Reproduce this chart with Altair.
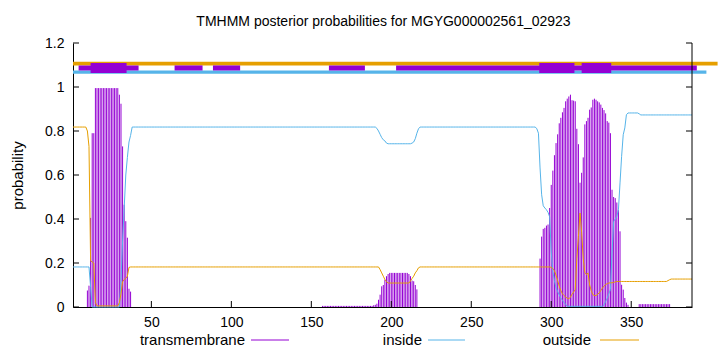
import altair as alt
import pandas as pd

TITLE = "TMHMM posterior probabilities for MGYG000002561_02923"
N_RES = 388
RESIDUES = list(range(1, N_RES + 1))

# ---- transmembrane posterior (impulses), read per residue ----
TM_HELIX_1 = [0.075, 0.097, 0.405, 0.79, 0.79] + [0.995] * 15 + \
             [0.965, 0.924, 0.73, 0.465, 0.39, 0.315, 0.083, 0.07]            # res 10-37
TM_LOOP = [0.005] * 32 + [0.008, 0.01] + \
          [0.015, 0.033, 0.056, 0.094, 0.10, 0.124, 0.14, 0.15] + [0.155] * 12 + \
          [0.15, 0.14, 0.12, 0.117, 0.10, 0.08]                                  # res 157-216
TM_HELIX_23 = [0.22, 0.32, 0.355, 0.36, 0.37, 0.375, 0.45, 0.555, 0.62, 0.69,
               0.745, 0.785, 0.835, 0.86, 0.885, 0.905, 0.935, 0.947, 0.957, 0.965,
               0.94, 0.938, 0.935, 0.81, 0.74, 0.565, 0.61, 0.68, 0.83, 0.845,
               0.86, 0.897, 0.907, 0.942, 0.947, 0.942, 0.935, 0.93, 0.92, 0.905,
               0.895, 0.88, 0.845, 0.838, 0.79, 0.533, 0.50, 0.495, 0.475, 0.442,
               0.344, 0.101, 0.079, 0.041, 0.02, 0.01]                            # res 293-348
TM_TAIL = [0.013] * 20                                                             # res 355-374
TM = [0.0] * 9 + TM_HELIX_1 + [0.0] * 119 + TM_LOOP + [0.0] * 76 + \
     TM_HELIX_23 + [0.0] * 6 + TM_TAIL + [0.0] * 14

# ---- inside posterior ----
INSIDE = [0.182] * 11 + [0.09] + [0.0] * 18 + \
         [0.12, 0.3, 0.45, 0.6, 0.68, 0.75, 0.78] + [0.818] * 153 + \
         [0.812, 0.80, 0.785, 0.77, 0.76, 0.755, 0.745] + [0.742] * 15 + \
         [0.745, 0.75, 0.765, 0.79, 0.81] + [0.818] * 73 + \
         [0.81, 0.79, 0.632, 0.51, 0.46, 0.45, 0.442, 0.43, 0.41, 0.25,
          0.16, 0.12, 0.086, 0.07, 0.055, 0.041, 0.03, 0.02, 0.012] + [0.003] * 23 + \
         [0.01, 0.025, 0.04, 0.06, 0.079, 0.245, 0.389, 0.40, 0.412, 0.442,
          0.564, 0.685, 0.783, 0.814, 0.874] + [0.882] * 7 + [0.878] + [0.873] * 33

# ---- outside posterior ----
OUTSIDE = [0.818] * 9 + [0.80, 0.73, 0.21, 0.205, 0.20, 0.02] + [0.005] * 14 + \
          [0.02, 0.06, 0.115, 0.125, 0.13, 0.14, 0.18] + [0.182] * 156 + \
          [0.17, 0.155, 0.14, 0.125, 0.115] + [0.109] * 14 + \
          [0.118, 0.13, 0.14, 0.155, 0.165, 0.178] + [0.182] * 82 + \
          [0.18, 0.175, 0.165, 0.145, 0.12, 0.095, 0.075, 0.06, 0.052, 0.045,
           0.04, 0.037, 0.045, 0.058, 0.068, 0.08, 0.22, 0.32, 0.427, 0.34,
           0.22, 0.158, 0.147, 0.155, 0.10, 0.075, 0.056, 0.052, 0.052, 0.058,
           0.064, 0.075, 0.086, 0.095, 0.102, 0.106, 0.109, 0.11, 0.11, 0.112,
           0.114] + [0.116] * 32 + [0.12, 0.124] + [0.127] * 14

# ---- predicted topology bands drawn above the curves ----
BAND_KIND = ["outside", "inside", "tm", "tm", "tm", "tm", "tm", "helix", "helix", "helix"]
BAND_START = [1, 1, 4.5, 64.5, 88.5, 161, 203, 12, 292.5, 319]
BAND_END = [404, 397, 42, 82, 105.5, 183.5, 391, 34.5, 314.5, 337.5]
BAND_LOW = [1.098, 1.060, 1.075, 1.075, 1.075, 1.075, 1.075, 1.064, 1.064, 1.064]
BAND_HIGH = [1.115, 1.075, 1.098, 1.098, 1.098, 1.098, 1.098, 1.109, 1.109, 1.109]

X_TICKS = [50, 100, 150, 200, 250, 300, 350]
Y_TICKS = [0, 0.2, 0.4, 0.6, 0.8, 1, 1.2]
LEGEND_LABELS = ["transmembrane", "inside", "outside"]

PURPLE, BLUE, ORANGE = "#9400d3", "#56b4e9", "#e69f00"
KIND_COLOR = {"outside": ORANGE, "inside": BLUE, "tm": PURPLE, "helix": PURPLE}
FONT = "Liberation Sans"
FS = 14
FS_BIG = 15
W, H = 619, 264

df = pd.DataFrame({"res": RESIDUES, "tm": TM, "inside": INSIDE, "outside": OUTSIDE})
bands = pd.DataFrame({"kind": BAND_KIND, "start": BAND_START, "end": BAND_END,
                      "lo": BAND_LOW, "hi": BAND_HIGH})
bands["color"] = bands["kind"].map(KIND_COLOR)

xs = alt.Scale(domain=[1, N_RES], nice=False, zero=False)
ys = alt.Scale(domain=[0, 1.2], nice=False)
x_axis = alt.Axis(values=X_TICKS, format="d", tickSize=0, labelPadding=8, labelFontSize=FS,
                  labelFont=FONT, labelColor="black", domainColor="black", grid=False,
                  title=None, labelFlush=False)
y_axis = alt.Axis(values=Y_TICKS, format="~g", tickSize=0, labelPadding=9, labelFontSize=FS,
                  labelFont=FONT, labelColor="black", domainColor="black", grid=False,
                  title="probability", titleFontSize=FS_BIG, titleFont=FONT,
                  titleFontWeight="normal", titleColor="black", titlePadding=19,
                  labelFlush=False)

band_layer = alt.Chart(bands).mark_rect().encode(
    x=alt.X("start:Q", scale=xs, axis=x_axis), x2="end:Q",
    y=alt.Y("lo:Q", scale=ys, axis=y_axis), y2="hi:Q",
    color=alt.Color("color:N", scale=None))

base = alt.Chart(df)
bars = base.transform_filter("datum.tm > 0").mark_rule(color=PURPLE, strokeWidth=1).encode(
    x=alt.X("res:Q", scale=xs, axis=x_axis),
    y=alt.Y("tm:Q", scale=ys, axis=y_axis), y2=alt.datum(0))
inside_line = base.mark_line(color=BLUE, strokeWidth=1).encode(
    x=alt.X("res:Q", scale=xs, axis=x_axis), y=alt.Y("inside:Q", scale=ys, axis=y_axis))
outside_line = base.mark_line(color=ORANGE, strokeWidth=1).encode(
    x=alt.X("res:Q", scale=xs, axis=x_axis), y=alt.Y("outside:Q", scale=ys, axis=y_axis))

ytick_df = pd.DataFrame({"v": Y_TICKS})
xtick_df = pd.DataFrame({"v": X_TICKS})
ytick_l = alt.Chart(ytick_df).mark_rule(color="black").encode(
    y=alt.Y("v:Q", scale=ys, axis=y_axis), x=alt.value(0), x2=alt.value(6))
ytick_r = alt.Chart(ytick_df).mark_rule(color="black").encode(
    y=alt.Y("v:Q", scale=ys, axis=y_axis), x=alt.value(W - 6), x2=alt.value(W))
xtick_b = alt.Chart(xtick_df).mark_rule(color="black").encode(
    x=alt.X("v:Q", scale=xs, axis=x_axis), y=alt.value(H), y2=alt.value(H - 6))
right_border = alt.Chart(ytick_df.head(1)).mark_rule(color="black").encode(
    x=alt.value(W), y=alt.value(0), y2=alt.value(H))

title_layer = alt.Chart(pd.DataFrame({"t": [TITLE]})).mark_text(
    font=FONT, fontSize=FS, color="black", baseline="middle", align="center").encode(
    text="t:N", x=alt.value(W / 2 + 1), y=alt.value(-21))

legend_layers = []
leg_text_right = [172, 349, 518]
leg_line = [(178, 216), (355, 392), (527, 566)]
for label, color, tx, (l0, l1) in zip(LEGEND_LABELS, [PURPLE, BLUE, ORANGE], leg_text_right, leg_line):
    ldf = pd.DataFrame({"t": [label]})
    legend_layers.append(alt.Chart(ldf).mark_text(
        font=FONT, fontSize=FS_BIG, color="black", align="right", baseline="middle").encode(
        text="t:N", x=alt.value(tx), y=alt.value(H + 33)))
    legend_layers.append(alt.Chart(ldf).mark_rule(color=color, strokeWidth=1).encode(
        x=alt.value(l0), x2=alt.value(l1), y=alt.value(H + 33)))

chart = alt.layer(band_layer, bars, inside_line, outside_line, ytick_l, ytick_r, xtick_b,
                  right_border, title_layer, *legend_layers).properties(
    width=W, height=H,
    padding={"left": 73, "top": 43, "right": 28, "bottom": 45},
    autosize=alt.AutoSizeParams(type="none"),
    background="white",
).configure_view(stroke=None)

chart.save("out.html", embed_options={"renderer": "svg", "actions": False})
